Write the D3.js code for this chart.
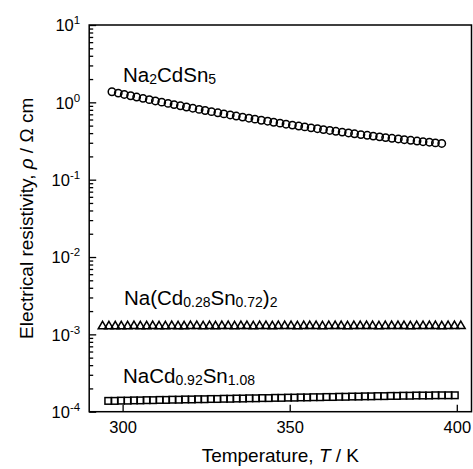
<!DOCTYPE html>
<html>
<head>
<meta charset="utf-8">
<script src="https://cdn.jsdelivr.net/npm/d3@7"></script>
<style>
  html, body { margin: 0; padding: 0; background: #fff; }
  svg { display: block; font-family: "Liberation Sans", Arial, Helvetica, sans-serif; }
</style>
</head>
<body>
<svg id="chart" width="473" height="469"></svg>
<script>
// ---- Data ----
const circleLabel = ["Na", {sub: "2"}, "CdSn", {sub: "5"}];
const triangleLabel = ["Na(Cd", {sub: "0.28"}, "Sn", {sub: "0.72"}, ")", {sub: "2"}];
const squareLabel = ["NaCd", {sub: "0.92"}, "Sn", {sub: "1.08"}];

// Na2CdSn5 (circles)
const circleT = [296.8, 298.7, 300.5, 302.4, 304.2, 306.1, 308.0, 309.8, 311.7, 313.6,
  315.4, 317.3, 319.1, 321.0, 322.9, 324.7, 326.6, 328.5, 330.3, 332.2,
  334.0, 335.9, 337.8, 339.6, 341.5, 343.4, 345.2, 347.1, 348.9, 350.8,
  352.7, 354.5, 356.4, 358.3, 360.1, 362.0, 363.8, 365.7, 367.6, 369.4,
  371.3, 373.2, 375.0, 376.9, 378.7, 380.6, 382.5, 384.3, 386.2, 388.1,
  389.9, 391.8, 393.6, 395.5];
const circleRho = [1.371, 1.317, 1.265, 1.216, 1.170, 1.126, 1.084, 1.043, 1.006, 0.969,
  0.935, 0.902, 0.870, 0.840, 0.811, 0.784, 0.758, 0.733, 0.709, 0.687,
  0.665, 0.644, 0.624, 0.606, 0.587, 0.570, 0.553, 0.538, 0.522, 0.508,
  0.494, 0.481, 0.468, 0.456, 0.444, 0.433, 0.422, 0.412, 0.402, 0.392,
  0.383, 0.375, 0.366, 0.358, 0.350, 0.343, 0.336, 0.329, 0.323, 0.316,
  0.310, 0.305, 0.299, 0.294];

// Na(Cd0.28Sn0.72)2 (triangles)
const triangleT = [294.0, 295.9, 297.8, 299.6, 301.5, 303.4, 305.3, 307.2, 309.0, 310.9,
  312.8, 314.7, 316.6, 318.4, 320.3, 322.2, 324.1, 326.0, 327.8, 329.7,
  331.6, 333.5, 335.4, 337.2, 339.1, 341.0, 342.9, 344.8, 346.6, 348.5,
  350.4, 352.3, 354.2, 356.0, 357.9, 359.8, 361.7, 363.6, 365.4, 367.3,
  369.2, 371.1, 373.0, 374.8, 376.7, 378.6, 380.5, 382.4, 384.2, 386.1,
  388.0, 389.9, 391.8, 393.6, 395.5, 397.4, 399.3, 401.2];
const triangleRho = [1.27e-3, 1.27e-3, 1.27e-3, 1.27e-3, 1.27e-3, 1.28e-3, 1.27e-3, 1.27e-3, 1.28e-3, 1.27e-3,
  1.27e-3, 1.28e-3, 1.27e-3, 1.27e-3, 1.28e-3, 1.28e-3, 1.27e-3, 1.28e-3, 1.27e-3, 1.28e-3,
  1.28e-3, 1.27e-3, 1.28e-3, 1.28e-3, 1.27e-3, 1.28e-3, 1.28e-3, 1.27e-3, 1.28e-3, 1.28e-3,
  1.28e-3, 1.27e-3, 1.28e-3, 1.28e-3, 1.28e-3, 1.27e-3, 1.28e-3, 1.28e-3, 1.28e-3, 1.27e-3,
  1.28e-3, 1.28e-3, 1.28e-3, 1.28e-3, 1.27e-3, 1.28e-3, 1.28e-3, 1.28e-3, 1.28e-3, 1.27e-3,
  1.28e-3, 1.28e-3, 1.28e-3, 1.28e-3, 1.27e-3, 1.28e-3, 1.28e-3, 1.28e-3];

// NaCd0.92Sn1.08 (squares)
const squareT = [295.7, 297.6, 299.5, 301.5, 303.4, 305.3, 307.2, 309.1, 311.1, 313.0,
  314.9, 316.8, 318.7, 320.7, 322.6, 324.5, 326.4, 328.3, 330.3, 332.2,
  334.1, 336.0, 337.9, 339.9, 341.8, 343.7, 345.6, 347.5, 349.5, 351.4,
  353.3, 355.2, 357.1, 359.1, 361.0, 362.9, 364.8, 366.7, 368.7, 370.6,
  372.5, 374.4, 376.3, 378.3, 380.2, 382.1, 384.0, 385.9, 387.9, 389.8,
  391.7, 393.6, 395.5, 397.5, 399.4];
const squareRho = [1.38e-4, 1.38e-4, 1.39e-4, 1.39e-4, 1.40e-4, 1.40e-4, 1.41e-4, 1.41e-4, 1.42e-4, 1.42e-4,
  1.43e-4, 1.43e-4, 1.44e-4, 1.44e-4, 1.45e-4, 1.45e-4, 1.46e-4, 1.46e-4, 1.47e-4, 1.47e-4,
  1.48e-4, 1.48e-4, 1.49e-4, 1.49e-4, 1.50e-4, 1.50e-4, 1.51e-4, 1.51e-4, 1.52e-4, 1.52e-4,
  1.53e-4, 1.53e-4, 1.54e-4, 1.54e-4, 1.55e-4, 1.55e-4, 1.56e-4, 1.56e-4, 1.57e-4, 1.57e-4,
  1.58e-4, 1.58e-4, 1.59e-4, 1.59e-4, 1.60e-4, 1.60e-4, 1.61e-4, 1.61e-4, 1.62e-4, 1.62e-4,
  1.62e-4, 1.63e-4, 1.63e-4, 1.63e-4, 1.63e-4];

const xTicks = [300, 350, 400];
const yMajorTicks = [1e-4, 1e-3, 1e-2, 1e-1, 1e0, 1e1];
const yMajorExponents = ["-4", "-3", "-2", "-1", "0", "1"];
const xTitle = ["Temperature, ", {it: "T"}, " / K"];
const yTitle = ["Electrical resistivity, ", {it: "ρ"}, " / Ω cm"];

// ---- Layout ----
const pLeft = 89.2, pRight = 471.5, pTop = 25, pBottom = 411.7;
const svg = d3.select("#chart");

const x = d3.scaleLinear().domain([290, 404.4]).range([pLeft, pRight]);
const y = d3.scaleLog().domain([1e-4, 10]).range([pBottom, pTop]);

// minor ticks
const yMinor = [];
for (let e = -4; e < 1; e++) for (let m = 2; m <= 9; m++) yMinor.push(m * Math.pow(10, e));

const axisStyle = g => {
  g.selectAll("path.domain").remove();
  g.selectAll("line").attr("stroke", "#000").attr("stroke-width", 1.3);
};

svg.append("g").attr("transform", `translate(${pLeft},0)`)
  .call(d3.axisLeft(y).tickValues(yMinor).tickSizeInner(-4).tickSizeOuter(0).tickFormat(""))
  .call(axisStyle);

const yAx = svg.append("g").attr("transform", `translate(${pLeft},0)`)
  .call(d3.axisLeft(y).tickValues(yMajorTicks).tickSizeInner(-7).tickSizeOuter(0).tickPadding(9))
  .call(axisStyle);
yAx.selectAll("text").each(function(d, i) {
  const t = d3.select(this);
  t.text(null).attr("font-size", 16.5).attr("fill", "#000")
   .attr("font-family", "'Liberation Sans', Arial, sans-serif").attr("dy", "0.36em");
  t.append("tspan").text("10");
  t.append("tspan").attr("font-size", 11.5).attr("dy", -7).text(yMajorExponents[i]);
});

const xAx = svg.append("g").attr("transform", `translate(0,${pBottom})`)
  .call(d3.axisBottom(x).tickValues(xTicks).tickSizeInner(-7).tickSizeOuter(0).tickPadding(10))
  .call(axisStyle);
xAx.selectAll("text").attr("font-size", 16.5).attr("fill", "#000")
  .attr("font-family", "'Liberation Sans', Arial, sans-serif");

// frame
svg.append("rect").attr("x", pLeft).attr("y", pTop)
  .attr("width", pRight - pLeft).attr("height", pBottom - pTop)
  .attr("fill", "none").attr("stroke", "#000").attr("stroke-width", 1.5);

// ---- Markers ----
const zipData = (T, R) => T.map((t, i) => ({t, r: R[i]}));
const mk = svg.append("g").attr("fill", "none").attr("stroke", "#000").attr("stroke-width", 1.5);

mk.selectAll("circle").data(zipData(circleT, circleRho)).join("circle")
  .attr("cx", d => x(d.t)).attr("cy", d => y(d.r)).attr("r", 3.7);

const tri = d3.symbol().type(d3.symbolTriangle).size(33);
mk.selectAll("path.tri").data(zipData(triangleT, triangleRho)).join("path")
  .attr("class", "tri")
  .attr("transform", d => `translate(${x(d.t)},${y(d.r)})`)
  .attr("d", tri);

mk.selectAll("rect.sq").data(zipData(squareT, squareRho)).join("rect")
  .attr("class", "sq")
  .attr("x", d => x(d.t) - 3.3).attr("y", d => y(d.r) - 3.3)
  .attr("width", 6.6).attr("height", 6.6);

// ---- Text ----
function richText(g, parts, size, subSize, shift) {
  parts.forEach((p, i) => {
    const prevSub = i > 0 && typeof parts[i - 1] === "object" && parts[i - 1].sub;
    if (typeof p === "string") {
      g.append("tspan").text(p).attr("dy", prevSub ? -shift : 0);
    } else if (p.sub) {
      g.append("tspan").text(p.sub).attr("font-size", subSize).attr("dy", prevSub ? 0 : shift);
    } else if (p.it) {
      g.append("tspan").text(p.it).attr("font-style", "italic");
    }
  });
}

const lab = (parts, px, py) => {
  const t = svg.append("text").attr("x", px).attr("y", py)
    .attr("font-size", 20.5).attr("fill", "#000");
  richText(t, parts, 20.5, 14, 2);
};
lab(circleLabel, 123, 82);
lab(triangleLabel, 124, 305);
lab(squareLabel, 123, 383);

const xt = svg.append("text").attr("x", (pLeft + pRight) / 2).attr("y", 462)
  .attr("text-anchor", "middle").attr("font-size", 19).attr("fill", "#000");
richText(xt, xTitle, 19, 13, 2);

const yt = svg.append("text")
  .attr("transform", `translate(33,${(pTop + pBottom) / 2}) rotate(-90)`)
  .attr("text-anchor", "middle").attr("font-size", 19).attr("fill", "#000");
richText(yt, yTitle, 19, 13, 2);
</script>
</body>
</html>
